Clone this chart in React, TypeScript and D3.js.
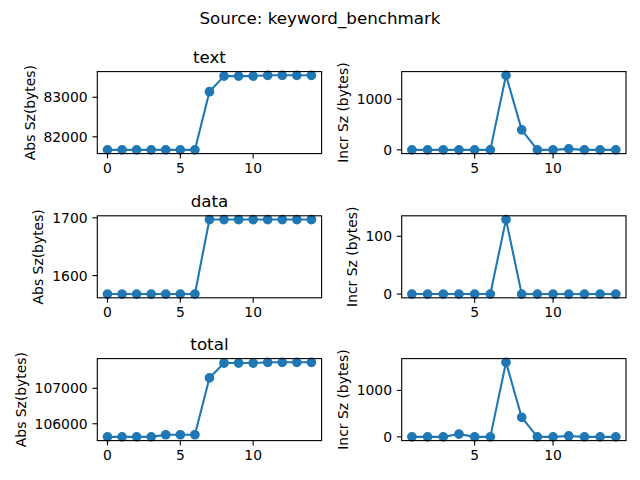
import React from "react";
import * as d3 from "d3";

const suptitle = "Source: keyword_benchmark";
const sections = ["text", "data", "total"];

const absX = [0, 1, 2, 3, 4, 5, 6, 7, 8, 9, 10, 11, 12, 13, 14];
const incrX = [1, 2, 3, 4, 5, 6, 7, 8, 9, 10, 11, 12, 13, 14];

const textAbs = [81670, 81670, 81670, 81670, 81670, 81670, 81670, 83140, 83535, 83535, 83535, 83555, 83555, 83555, 83555];
const textIncr = [0, 0, 0, 0, 0, 0, 1470, 395, 0, 0, 20, 0, 0, 0];
const dataAbs = [1568, 1568, 1568, 1568, 1568, 1568, 1568, 1697, 1697, 1697, 1697, 1697, 1697, 1697, 1697];
const dataIncr = [0, 0, 0, 0, 0, 0, 129, 0, 0, 0, 0, 0, 0, 0];
const totalAbs = [105630, 105630, 105630, 105630, 105690, 105690, 105690, 107294, 107714, 107714, 107714, 107734, 107734, 107734, 107734];
const totalIncr = [0, 0, 0, 60, 0, 0, 1604, 420, 0, 0, 20, 0, 0, 0];

const absYTicks = [[82000, 83000], [1600, 1700], [106000, 107000]];
const incrYTicks = [[0, 1000], [0, 100], [0, 1000]];
const absXTicks = [0, 5, 10];
const incrXTicks = [5, 10];

const absLabel = "Abs Sz(bytes)";
const incrLabel = "Incr Sz (bytes)";

const absSeries = [textAbs, dataAbs, totalAbs];
const incrSeries = [textIncr, dataIncr, totalIncr];

const COLOR = "#1f77b4";
const FONT = "DejaVu Sans, sans-serif";
const TICK_FS = 13.9;
const TITLE_FS = 16.7;

const rowTops = [71.6, 215.8, 358.6];
const rowH = 82;
const colLeft = [97.3, 401.7];
const colW = 224.3;

function padDomain(vals: number[]): [number, number] {
  const [lo, hi] = d3.extent(vals) as [number, number];
  const m = (hi - lo) * 0.05;
  return [lo - m, hi + m];
}

function Panel(props: {
  x0: number; y0: number; xs: number[]; ys: number[]; xTicks: number[]; yTicks: number[];
  ylabel: string; title?: string;
}) {
  const { x0, y0, xs, ys, xTicks, yTicks, ylabel, title } = props;
  const x = d3.scaleLinear().domain(padDomain(xs)).range([x0, x0 + colW]);
  const y = d3.scaleLinear().domain(padDomain(ys)).range([y0 + rowH, y0]);
  const line = d3.line<number>().x((_, i) => x(xs[i])).y((d) => y(d));
  const bottom = y0 + rowH;
  const charW = TICK_FS * 0.636;
  const maxLen = d3.max(yTicks, (t) => String(t).length) as number;
  const tickLabelLeft = x0 - 9.7 - maxLen * charW;
  const labelX = tickLabelLeft - 5.56 - 3.3;
  return (
    <g>
      <path d={line(ys) as string} fill="none" stroke={COLOR} strokeWidth={2.08} strokeLinejoin="round" strokeLinecap="square" />
      {ys.map((v, i) => (
        <circle key={i} cx={x(xs[i])} cy={y(v)} r={4.17} fill={COLOR} stroke={COLOR} strokeWidth={1.39} />
      ))}
      <rect x={x0} y={y0} width={colW} height={rowH} fill="none" stroke="#000" strokeWidth={1.1} />
      {xTicks.map((t) => (
        <g key={"x" + t}>
          <line x1={x(t)} x2={x(t)} y1={bottom} y2={bottom + 4.86} stroke="#000" strokeWidth={1.1} />
          <text x={x(t)} y={bottom + 19.4} textAnchor="middle" fontSize={TICK_FS} fontFamily={FONT}>{t}</text>
        </g>
      ))}
      {yTicks.map((t) => (
        <g key={"y" + t}>
          <line x1={x0 - 4.86} x2={x0} y1={y(t)} y2={y(t)} stroke="#000" strokeWidth={1.1} />
          <text x={x0 - 9.7} y={y(t) + 5} textAnchor="end" fontSize={TICK_FS} fontFamily={FONT}>{t}</text>
        </g>
      ))}
      <text
        transform={`translate(${labelX},${y0 + rowH / 2}) rotate(-90)`}
        textAnchor="middle"
        fontSize={TICK_FS}
        fontFamily={FONT}
      >{ylabel}</text>
      {title && (
        <text x={x0 + colW / 2} y={y0 - 8.5} textAnchor="middle" fontSize={TITLE_FS} fontFamily={FONT}>{title}</text>
      )}
    </g>
  );
}

export default function App() {
  return (
    <svg width={640} height={480} style={{ position: "absolute", left: 0, top: 0, background: "#fff" }}>
      <rect width={640} height={480} fill="#fff" />
      <text x={320} y={23.5} textAnchor="middle" fontSize={TITLE_FS} fontFamily={FONT}>{suptitle}</text>
      {sections.map((s, r) => (
        <g key={s}>
          <Panel x0={colLeft[0]} y0={rowTops[r]} xs={absX} ys={absSeries[r]} xTicks={absXTicks} yTicks={absYTicks[r]} ylabel={absLabel} title={s} />
          <Panel x0={colLeft[1]} y0={rowTops[r]} xs={incrX} ys={incrSeries[r]} xTicks={incrXTicks} yTicks={incrYTicks[r]} ylabel={incrLabel} />
        </g>
      ))}
    </svg>
  );
}
